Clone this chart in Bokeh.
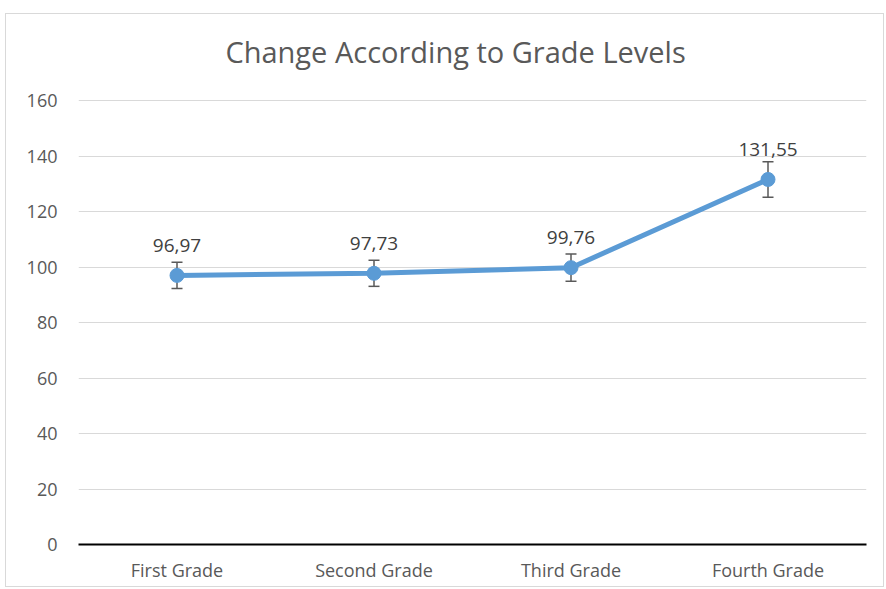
from bokeh.plotting import figure
from bokeh.models import ColumnDataSource, FactorRange, Range1d, Whisker, TeeHead, FixedTicker, Label
from bokeh.core.properties import value
from bokeh.embed import file_html
from bokeh.resources import INLINE

grades = ["First Grade", "Second Grade", "Third Grade", "Fourth Grade"]
means = [96.97, 97.73, 99.76, 131.55]
errors = [4.7, 4.7, 4.9, 6.4]
labels = ["96,97", "97,73", "99,76", "131,55"]
y_ticks = [0, 20, 40, 60, 80, 100, 120, 140, 160]
title_text = "Change According to Grade Levels"

src = ColumnDataSource(dict(
    x=grades, y=means,
    upper=[m + e for m, e in zip(means, errors)],
    lower=[m - e for m, e in zip(means, errors)],
    lab=labels,
))

FONT = "Open Sans"

# frame extends above the 160 gridline so the title can sit inside it
p = figure(width=879, height=574, x_range=FactorRange(*grades), y_range=Range1d(0, 188.47),
           output_backend="svg", toolbar_location=None,
           min_border_left=72, min_border_right=19, min_border_top=7, min_border_bottom=44)
p.styles = {"border": "1px solid #D9D9D9", "margin-left": "5px", "margin-top": "13px"}
p.outline_line_color = None
p.background_fill_color = "white"
p.border_fill_color = "white"

title = Label(x=1.914, y=177.66, text=title_text,
              text_align="center", text_baseline="middle", text_font=FONT,
              text_font_size="29px", text_color="#595959")
p.add_layout(title)

p.xgrid.grid_line_color = None
p.ygrid.grid_line_color = "#D9D9D9"
p.ygrid.grid_line_width = 1

p.yaxis.ticker = FixedTicker(ticks=y_ticks)
p.yaxis.axis_line_color = None
p.yaxis.major_tick_line_color = None
p.yaxis.major_tick_out = 0
p.yaxis.minor_tick_line_color = None
p.yaxis.major_label_text_font = FONT
p.yaxis.major_label_text_font_size = "18px"
p.yaxis.major_label_text_color = "#595959"
p.yaxis.major_label_standoff = 21

p.xaxis.axis_line_color = "#000000"
p.xaxis.axis_line_width = 2
p.xaxis.major_tick_line_color = None
p.xaxis.major_tick_out = 0
p.xaxis.minor_tick_line_color = None
p.xaxis.major_label_text_font = FONT
p.xaxis.major_label_text_font_size = "18px"
p.xaxis.major_label_text_color = "#595959"
p.xaxis.major_label_standoff = 13

w = Whisker(source=src, base="x", upper="upper", lower="lower",
            line_color="#595959", line_width=1.5,
            upper_head=TeeHead(size=11, line_color="#595959", line_width=1.5),
            lower_head=TeeHead(size=11, line_color="#595959", line_width=1.5))
p.add_layout(w)

p.line("x", "y", source=src, line_color="#5B9BD5", line_width=5)
p.scatter("x", "y", source=src, size=14, fill_color="#5B9BD5", line_color="#5B9BD5")

p.text("x", "y", text="lab", source=src, text_align="center", text_baseline="middle",
       y_offset=-30, text_font=value(FONT), text_font_size="19px", text_color="#404040")

open("out.html", "w").write(file_html(p, INLINE))
